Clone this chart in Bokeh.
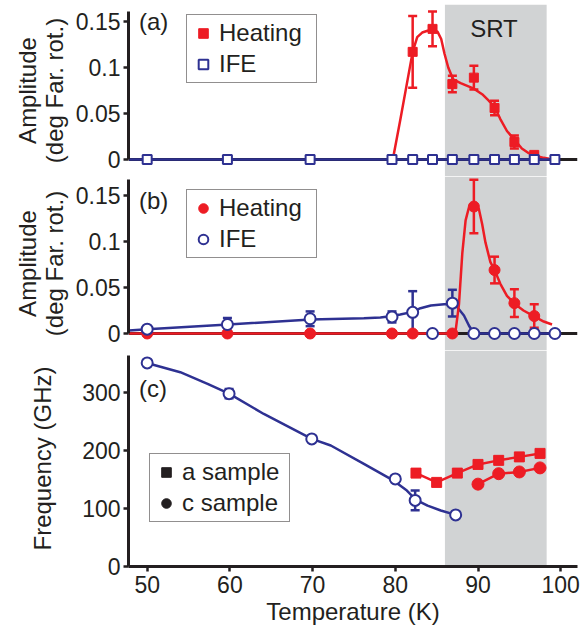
from bokeh.plotting import figure
from bokeh.layouts import column
from bokeh.models import (Range1d, FixedTicker, Span, BoxAnnotation, Whisker, TeeHead,
                          ColumnDataSource, Legend, LegendItem, Label)
from bokeh.embed import file_html
from bokeh.resources import INLINE

RED = "#ED1C24"
BLUE = "#2E3192"
GRAY = "#D1D3D4"
INK = "#231F20"
FONT = "Liberation Sans"

# ---------------- data ----------------
x_limits = [47.74, 102.03]
srt_range = [86.0, 98.3]
x_ticks = [50, 60, 70, 80, 90, 100]
amp_ticks = [0, 0.05, 0.1, 0.15]
amp_tick_labels = ["0", "0.05", "0.1", "0.15"]
freq_ticks = [0, 100, 200, 300]

temps = [50.0, 59.7, 69.7, 79.6, 82.1, 84.5, 86.9, 89.5, 92.0, 94.4, 96.8, 99.3]

# panel (a)
ife_a = [0, 0, 0, 0, 0, 0, 0, 0, 0, 0, 0, 0]
ife_a_fit_T = [47.8, 99.3]
ife_a_fit = [0, 0]
heat_a_T = [82.1, 84.5, 86.9, 89.5, 92.0, 94.4, 96.8]
heat_a = [0.117, 0.142, 0.082, 0.089, 0.056, 0.019, 0.005]
heat_a_err = [0.039, 0.019, 0.009, 0.013, 0.008, 0.007, 0.002]
heat_a_fit_T = [79.7, 80.6, 82.1, 82.65, 83.25, 83.9, 84.5, 85.1, 85.55, 85.95, 86.4, 87.0,
                87.9, 88.7, 89.5, 90.5, 91.3, 92.0, 92.7, 93.5, 94.45, 95.3, 96.1, 96.95,
                97.95, 98.6]
heat_a_fit = [0, 0.043, 0.117, 0.133, 0.138, 0.140, 0.141, 0.139, 0.131, 0.115, 0.100, 0.087,
              0.083, 0.080, 0.077, 0.071, 0.064, 0.057, 0.044, 0.031, 0.021, 0.012, 0.007,
              0.004, 0.0018, 0.0008]

# panel (b)
ife_b = [0.0047, 0.0098, 0.016, 0.018, 0.023, 0, 0.033, 0, 0, 0, 0, 0]
ife_b_err_T = [50.0, 59.7, 69.7, 79.6, 82.1, 86.9]
ife_b_err_val = [0.0047, 0.0098, 0.016, 0.018, 0.023, 0.033]
ife_b_err = [0.002, 0.007, 0.008, 0.006, 0.023, 0.0145]
ife_b_fit_T = [47.8, 50.0, 59.8, 69.8, 76.2, 78.2, 79.6, 80.6, 82.1, 83.05, 84.3, 85.9, 86.7,
               87.5, 88.3, 88.9, 89.5, 99.3]
ife_b_fit = [0.0033, 0.0047, 0.0098, 0.0152, 0.0165, 0.0175, 0.019, 0.0207, 0.0235, 0.0275,
             0.0304, 0.0318, 0.032, 0.0286, 0.0196, 0.0087, 0, 0]
heat_b_T = [50.0, 59.7, 69.7, 79.6, 82.1, 86.9, 89.5, 92.0, 94.4, 96.8]
heat_b = [0, 0, 0, 0, 0, 0, 0.138, 0.069, 0.033, 0.019]
heat_b_err_T = [89.5, 92.0, 94.4, 96.8]
heat_b_err_val = [0.138, 0.069, 0.033, 0.019]
heat_b_err = [0.029, 0.0145, 0.015, 0.0127]
heat_b_fit_T = [47.8, 87.0, 87.3, 87.7, 88.1, 88.5, 88.9, 89.5, 90.1, 90.5, 90.9, 91.5, 92.0,
                92.7, 93.5, 94.45, 95.5, 96.9, 97.95, 98.95]
heat_b_fit = [0, 0, 0.0033, 0.032, 0.087, 0.123, 0.137, 0.141, 0.1355, 0.119, 0.099, 0.0775,
              0.069, 0.054, 0.041, 0.032, 0.025, 0.018, 0.013, 0.0098]

# panel (c)
ife_c_T = [50.0, 59.9, 69.9, 80.0, 82.4, 87.3]
ife_c = [351, 298, 220, 151, 114, 89]
ife_c_err_T = [59.9, 82.4]
ife_c_err_val = [298, 114]
ife_c_err = [8, 17]
ife_c_fit_T = [50.0, 50.4, 54.0, 57.3, 59.9, 64.1, 69.9, 72.2, 76.2, 79.8, 81.4, 82.5, 83.9,
               85.5, 87.3]
ife_c_fit = [351, 349, 335, 315, 298, 263, 220, 208.6, 177, 148, 131, 115, 105, 96.5, 89]
a_samp_T = [82.5, 85.0, 87.5, 90.0, 92.5, 95.0, 97.5]
a_samp = [161, 145, 161, 176, 183, 189, 195]
c_samp_T = [90.0, 92.5, 95.0, 97.5]
c_samp = [142, 160, 163, 170]

# ---------------- helpers ----------------
x_rng = Range1d(x_limits[0], x_limits[1])


def style_axis(ax):
    ax.axis_line_width = 3
    ax.axis_line_color = INK
    ax.major_tick_line_width = 2.5
    ax.major_tick_line_color = INK
    ax.major_tick_out = 5
    ax.major_tick_in = 0
    ax.minor_tick_line_color = None
    ax.major_label_text_font = FONT
    ax.major_label_text_font_size = "23px"
    ax.major_label_text_color = INK
    ax.axis_label_text_font = FONT
    ax.axis_label_text_font_size = "24px"
    ax.axis_label_text_font_style = "normal"
    ax.axis_label_text_color = INK
    ax.axis_label_text_line_height = 1.0


def make_fig(height, y_start, y_end, top, bottom, with_xaxis):
    p = figure(width=583, height=height, x_range=x_rng, y_range=Range1d(y_start, y_end),
               output_backend="svg", toolbar_location=None,
               x_axis_location="below" if with_xaxis else None,
               min_border=0, min_border_left=128, min_border_right=6,
               min_border_top=top, min_border_bottom=bottom)
    p.outline_line_color = None
    p.grid.visible = False
    p.background_fill_color = "white"
    p.border_fill_color = "white"
    p.add_layout(BoxAnnotation(left=srt_range[0], right=srt_range[1], fill_color=GRAY,
                               fill_alpha=1, line_color=None, level="image"))
    for ax in p.yaxis:
        style_axis(ax)
        ax.major_label_standoff = 3
    if with_xaxis:
        for ax in p.xaxis:
            style_axis(ax)
    return p


def whiskers(p, xs, vals, errs, color):
    src = ColumnDataSource(dict(x=xs, lo=[v - e for v, e in zip(vals, errs)],
                                hi=[v + e for v, e in zip(vals, errs)]))
    w = Whisker(base="x", lower="lo", upper="hi", source=src, dimension="height",
                line_color=color, line_width=2.5, level="underlay",
                upper_head=TeeHead(size=9, line_color=color, line_width=2.5),
                lower_head=TeeHead(size=9, line_color=color, line_width=2.5))
    p.add_layout(w)


def make_legend(items, loc, label_width):
    leg = Legend(items=items, location=loc, padding=4, spacing=3, margin=0,
                 glyph_width=24, glyph_height=24, label_standoff=4, label_width=label_width,
                 label_text_font=FONT, label_text_font_size="24px", label_text_color=INK,
                 border_line_color=INK, border_line_width=1.5, background_fill_color="white",
                 background_fill_alpha=1)
    return leg


def zero_line(p):
    p.add_layout(Span(location=0, dimension="width", line_color=INK, line_width=3,
                      level="underlay"))


amp_overrides = {t: s for t, s in zip(amp_ticks, amp_tick_labels)}

# ---------------- panel (a) ----------------
pa = make_fig(176, -0.01848, 0.1685, 4, 0, False)
pa.yaxis.bounds = (0, 0.161)
pa.yaxis.ticker = FixedTicker(ticks=amp_ticks)
pa.yaxis.major_label_overrides = amp_overrides
pa.yaxis.axis_label = "Amplitude\n(deg Far. rot.)"
pa.yaxis.axis_label_standoff = 5
zero_line(pa)
whiskers(pa, heat_a_T, heat_a, heat_a_err, RED)
pa.line(heat_a_fit_T, heat_a_fit, line_color=RED, line_width=2.5)
r_heat_a = pa.scatter(heat_a_T, heat_a, marker="square", size=9, fill_color=RED, line_color=RED)
pa.line(ife_a_fit_T, ife_a_fit, line_color=BLUE, line_width=2.5)
r_ife_a = pa.scatter(temps, ife_a, marker="square", size=9, fill_color="white",
                     line_color=BLUE, line_width=2)
pa.add_layout(make_legend([LegendItem(label="Heating", renderers=[r_heat_a]),
                           LegendItem(label="IFE", renderers=[r_ife_a])], (58, 93), 93))
pa.add_layout(Label(x=49.0, y=0.165, text="(a)", text_baseline="top", text_font=FONT,
                    text_font_size="24px", text_color=INK))
pa.add_layout(Label(x=91.93, y=0.1424, text="SRT", text_align="center",
                    text_baseline="middle", text_font=FONT, text_font_size="24px",
                    text_color=INK))

# ---------------- panel (b) ----------------
pb = make_fig(174, -0.01848, 0.17065, 0, 0, False)
pb.yaxis.bounds = (0, 0.1674)
pb.yaxis.ticker = FixedTicker(ticks=amp_ticks)
pb.yaxis.major_label_overrides = amp_overrides
pb.yaxis.axis_label = "Amplitude\n(deg Far. rot.)"
pb.yaxis.axis_label_standoff = 5
zero_line(pb)
whiskers(pb, ife_b_err_T, ife_b_err_val, ife_b_err, BLUE)
whiskers(pb, heat_b_err_T, heat_b_err_val, heat_b_err, RED)
pb.line(ife_b_fit_T, ife_b_fit, line_color=BLUE, line_width=2.5)
pb.line(heat_b_fit_T, heat_b_fit, line_color=RED, line_width=2.5)
r_heat_b = pb.scatter(heat_b_T, heat_b, marker="circle", size=11, fill_color=RED, line_color=RED)
r_ife_b = pb.scatter(temps, ife_b, marker="circle", size=11, fill_color="white",
                     line_color=BLUE, line_width=2)
pb.add_layout(make_legend([LegendItem(label="Heating", renderers=[r_heat_b]),
                           LegendItem(label="IFE", renderers=[r_ife_b])], (58, 92), 93))
pb.add_layout(Label(x=49.0, y=0.1587, text="(b)", text_baseline="top", text_font=FONT,
                    text_font_size="24px", text_color=INK))

# ---------------- panel (c) ----------------
pc = make_fig(288, 0, 372.4, 0, 72, True)
pc.yaxis.bounds = (0, 363.8)
pc.yaxis.ticker = FixedTicker(ticks=freq_ticks)
pc.yaxis.axis_label = "Frequency (GHz)"
pc.yaxis.axis_label_standoff = 23
pc.xaxis.ticker = FixedTicker(ticks=x_ticks)
pc.xaxis.axis_label = "Temperature (K)"
pc.xaxis.major_label_standoff = 4
pc.xaxis.axis_label_standoff = 2
whiskers(pc, ife_c_err_T, ife_c_err_val, ife_c_err, BLUE)
pc.line(ife_c_fit_T, ife_c_fit, line_color=BLUE, line_width=2.5)
pc.scatter(ife_c_T, ife_c, marker="circle", size=11, fill_color="white", line_color=BLUE,
           line_width=2)
pc.line(a_samp_T, a_samp, line_color=RED, line_width=2.5)
pc.scatter(a_samp_T, a_samp, marker="square", size=10, fill_color=RED, line_color=RED)
pc.line(c_samp_T, c_samp, line_color=RED, line_width=2.5)
pc.scatter(c_samp_T, c_samp, marker="circle", size=12, fill_color=RED, line_color=RED)
# black legend swatches (renderers kept hidden; the legend only borrows their style)
leg_sq = pc.scatter(a_samp_T, a_samp, marker="square", fill_color=INK, line_color=INK,
                    visible=False)
leg_ci = pc.scatter(c_samp_T, c_samp, marker="circle", fill_color=INK, line_color=INK,
                    visible=False)
pc.add_layout(make_legend([LegendItem(label="a sample", renderers=[leg_sq]),
                           LegendItem(label="c sample", renderers=[leg_ci])], (21, 44), 103))
pc.add_layout(Label(x=49.0, y=331, text="(c)", text_baseline="top", text_font=FONT,
                    text_font_size="24px", text_color=INK))

layout = column(pa, pb, pc, spacing=0)
open("out.html", "w").write(file_html(layout, INLINE))
